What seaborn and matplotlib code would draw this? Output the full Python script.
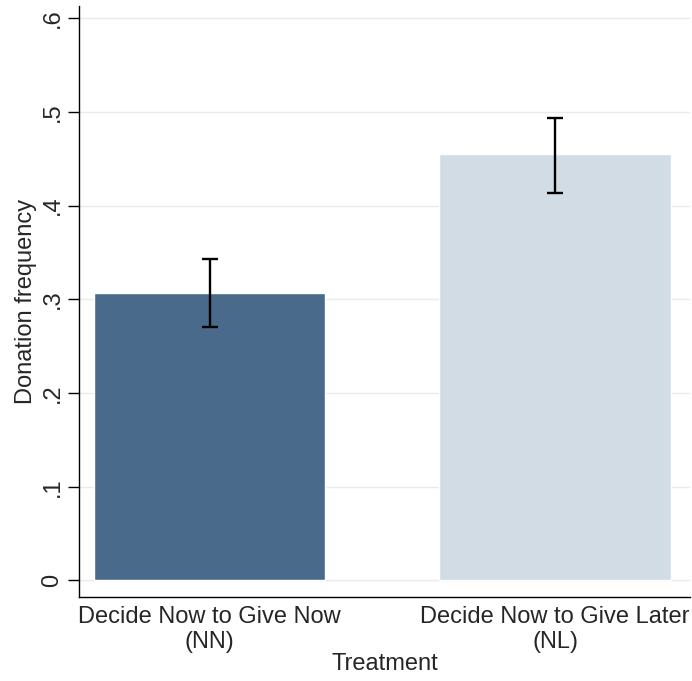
import numpy as np
import pandas as pd
import seaborn as sns
import matplotlib
matplotlib.use("Agg")
import matplotlib.pyplot as plt

# data
treatments = ["Decide Now to Give Now\n(NN)", "Decide Now to Give Later\n(NL)"]
donation_freq = [0.307, 0.455]
ci_low = [0.270, 0.414]
ci_high = [0.343, 0.494]
yticks = [0, 0.1, 0.2, 0.3, 0.4, 0.5, 0.6]
ytick_labels = ["0", ".1", ".2", ".3", ".4", ".5", ".6"]
bar_colors = ["#4a6a8b", "#d1dce5"]

sns.set_theme(style="white")
plt.rcParams["font.family"] = ["Liberation Sans", "DejaVu Sans"]

df = pd.DataFrame({"Treatment": treatments, "freq": donation_freq})

fig = plt.figure(figsize=(6.92, 6.81), dpi=100)
ax = fig.add_axes([0.114, 0.123, 0.883, 0.868])

sns.barplot(data=df, x="Treatment", y="freq", hue="Treatment",
            palette=bar_colors, width=0.67, errorbar=None, legend=False,
            saturation=1, ax=ax)

# confidence intervals
pos = np.arange(len(treatments))
mid = np.array(donation_freq)
lo = mid - np.array(ci_low)
hi = np.array(ci_high) - mid
ax.errorbar(pos, mid, yerr=[lo, hi], fmt="none", ecolor="black",
            elinewidth=1.7, capsize=5.5, capthick=1.7, zorder=5)

ax.set_ylim(-0.018, 0.613)
ax.set_xlim(-0.378, 1.39)
ax.set_yticks(yticks)
ax.set_yticklabels(ytick_labels, rotation=90, va="center", fontsize=17)
ax.yaxis.grid(True, color="#eaeaea", linewidth=1)
ax.set_axisbelow(True)
ax.tick_params(axis="y", left=True, length=8, width=1, color="black", pad=3)
ax.tick_params(axis="x", bottom=False, labelsize=17, pad=0)

ax.set_xlabel("Treatment", fontsize=17, labelpad=0)
ax.set_ylabel("Donation frequency", fontsize=17, labelpad=3)

for s in ["top", "right"]:
    ax.spines[s].set_visible(False)
for s in ["left", "bottom"]:
    ax.spines[s].set_color("black")
    ax.spines[s].set_linewidth(1)

fig.savefig("out.png", dpi=100, facecolor="white")
